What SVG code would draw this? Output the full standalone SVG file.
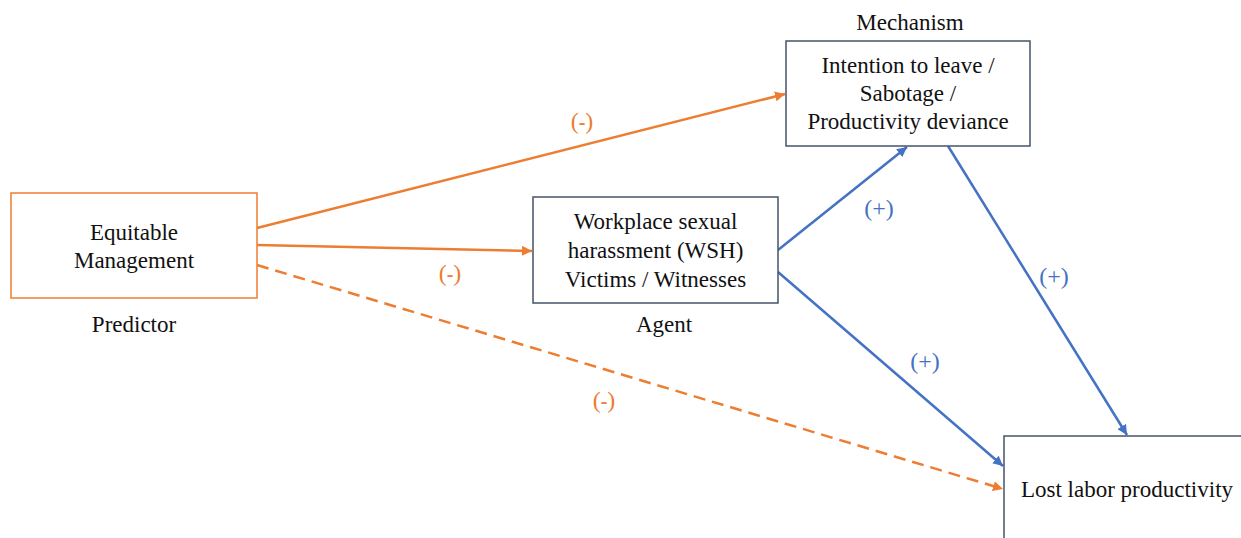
<svg xmlns="http://www.w3.org/2000/svg" width="1241" height="538" viewBox="0 0 1241 538">
<style>
text{font-size:23px;fill:#111;text-anchor:middle}
.box{fill:#fff;stroke:#44546A;stroke-width:1.5}
.obox{fill:#fff;stroke:#ED7D31;stroke-width:1.5}
.o{stroke:#ED7D31;stroke-width:2.5;fill:none}
.b{stroke:#4472C4;stroke-width:2.5;fill:none}
.ol{fill:#ED7D31;font-size:24px}
.bl{fill:#4472C4;font-size:24px}
.d{font-weight:bold;font-size:20px}
</style>
<defs>
<marker id="ao" viewBox="0 0 10 10" refX="10" refY="5" markerWidth="4" markerHeight="4" orient="auto" markerUnits="strokeWidth"><path d="M0,0L10,5L0,10z" fill="#ED7D31"/></marker>
<marker id="ab" viewBox="0 0 10 10" refX="10" refY="5" markerWidth="4" markerHeight="4" orient="auto" markerUnits="strokeWidth"><path d="M0,0L10,5L0,10z" fill="#4472C4"/></marker>
</defs>
<g font-family="'Liberation Serif', 'DejaVu Serif', serif">
<g id="connectors">
<line class="o" x1="257" y1="228" x2="785" y2="94" marker-end="url(#ao)"/>
<line class="o" x1="257" y1="245" x2="532" y2="251" marker-end="url(#ao)"/>
<line class="o" x1="257" y1="265" x2="1003" y2="489" stroke-dasharray="12,7" marker-end="url(#ao)"/>
<line class="b" x1="778" y1="250" x2="907" y2="147" marker-end="url(#ab)"/>
<line class="b" x1="778" y1="272" x2="1003" y2="466" marker-end="url(#ab)"/>
<line class="b" x1="948" y1="146" x2="1127" y2="435" marker-end="url(#ab)"/>
<text class="ol" x="582" y="129">(<tspan class="d">-</tspan>)</text>
<text class="ol" x="450" y="281">(<tspan class="d">-</tspan>)</text>
<text class="ol" x="604" y="408">(<tspan class="d">-</tspan>)</text>
<text class="bl" x="879" y="216">(+)</text>
<text class="bl" x="925" y="369">(+)</text>
<text class="bl" x="1054" y="284">(+)</text>
</g>
<g id="predictor">
<rect class="obox" x="11" y="193" width="246" height="105"/>
<text x="134" y="240">Equitable</text>
<text x="134" y="268">Management</text>
<text x="134" y="332">Predictor</text>
</g>
<g id="agent">
<rect class="box" x="533" y="197" width="245" height="106"/>
<text x="655.5" y="229">Workplace sexual</text>
<text x="655.5" y="258">harassment (WSH)</text>
<text x="655.5" y="287">Victims / Witnesses</text>
<text x="664" y="332">Agent</text>
</g>
<g id="mechanism">
<text x="910" y="30">Mechanism</text>
<rect class="box" x="786" y="41" width="244" height="105"/>
<text x="908" y="73">Intention to leave /</text>
<text x="908" y="101">Sabotage /</text>
<text x="908" y="129">Productivity deviance</text>
</g>
<g id="outcome">
<rect class="box" x="1004" y="436" width="250" height="120"/>
<text x="1127" y="497">Lost labor productivity</text>
</g>
</g>
</svg>
